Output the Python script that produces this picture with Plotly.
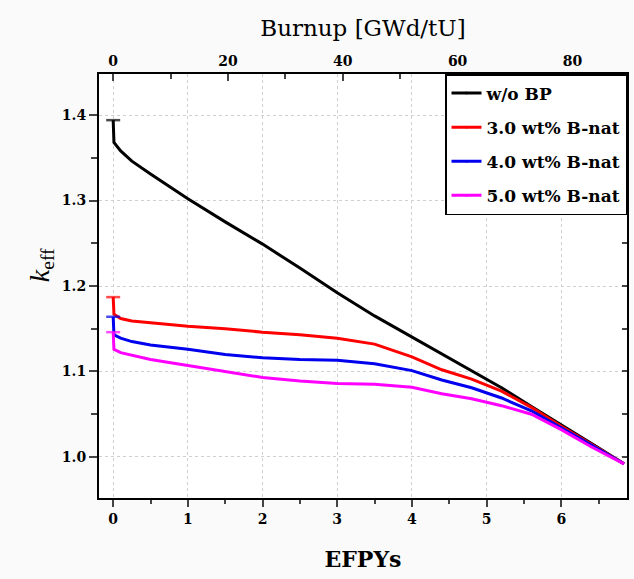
import plotly.graph_objects as go

# EFPY grid and k_eff readings for each case
efpy = [0, 0.01, 0.1, 0.25, 0.5, 1.0, 1.5, 2.0, 2.5, 3.0, 3.5, 4.0, 4.4, 4.8, 5.2, 5.6, 6.0, 6.4, 6.84]
k_no_bp = [1.394, 1.368, 1.358, 1.346, 1.331, 1.302, 1.275, 1.249, 1.221, 1.192, 1.165, 1.140,
           1.120, 1.101, 1.081, 1.059, 1.038, 1.016, 0.992]
k_b30 = [1.187, 1.167, 1.162, 1.159, 1.157, 1.153, 1.150, 1.146, 1.143, 1.139, 1.132, 1.117,
         1.102, 1.091, 1.077, 1.058, 1.036, 1.015, 0.992]
k_b40 = [1.164, 1.143, 1.139, 1.135, 1.131, 1.126, 1.120, 1.116, 1.114, 1.113, 1.109, 1.101,
         1.090, 1.081, 1.069, 1.054, 1.034, 1.014, 0.992]
k_b50 = [1.146, 1.126, 1.122, 1.119, 1.114, 1.107, 1.100, 1.093, 1.089, 1.086, 1.085, 1.0815,
         1.074, 1.068, 1.060, 1.050, 1.032, 1.012, 0.992]

names = ['w/o BP', '3.0 wt% B-nat', '4.0 wt% B-nat', '5.0 wt% B-nat']
colors = ['#000000', '#ff0000', '#0000ee', '#ff00ff']

x_range = [-0.19, 6.88]
burnup_per_efpy = 13.01
y_range = [0.952, 1.448]

serif = 'DejaVu Serif'

fig = go.Figure()
for i, (name, k, c) in enumerate(zip(names, [k_no_bp, k_b30, k_b40, k_b50], colors)):
    sizes = [10] + [0] * (len(k) - 1)
    fig.add_trace(go.Scatter(x=efpy, y=k, name='<b>' + name + '</b>', mode='lines+markers',
                             line=dict(color=c, width=3),
                             marker=dict(symbol='line-ew', size=sizes, color=c,
                                         line=dict(color=c, width=2.5)),
                             legendgroup=str(i)))
# empty traces so the top (burnup) and right axes get drawn
fig.add_trace(go.Scatter(x=[], y=[], xaxis='x2', yaxis='y', showlegend=False))
fig.add_trace(go.Scatter(x=[], y=[], xaxis='x', yaxis='y2', showlegend=False))

tickfont = dict(family=serif, size=14, color='black')
fig.update_layout(
    width=634, height=579,
    margin=dict(l=99, r=7, t=74, b=81),
    paper_bgcolor='#fafafa', plot_bgcolor='white',
    font=dict(family=serif, color='black'),
    xaxis=dict(range=x_range, dtick=1, tick0=0, ticks='outside', ticklen=7, tickwidth=1.5,
               showline=True, linewidth=2, linecolor='black', mirror=False,
               showgrid=True, gridcolor='#d0d0d0', griddash='dot', gridwidth=1,
               zeroline=False, tickfont=tickfont, tickprefix='<b>', ticksuffix='</b>',
               minor=dict(dtick=0.5, ticks='outside', ticklen=4, tickwidth=1.5, showgrid=False),
               title=dict(text='<b>EFPYs</b>', font=dict(family=serif, size=22), standoff=26)),
    xaxis2=dict(range=[x_range[0] * burnup_per_efpy, x_range[1] * burnup_per_efpy],
                overlaying='x', side='top', anchor='y', dtick=20, tick0=0,
                ticks='inside', ticklen=7, tickwidth=1.5,
                showline=True, linewidth=2, linecolor='black', showgrid=False, zeroline=False,
                tickfont=tickfont, tickprefix='<b>', ticksuffix='</b>',
                minor=dict(dtick=10, ticks='inside', ticklen=5, tickwidth=1.5, showgrid=False),
                title=dict(text='Burnup [GWd/tU]', font=dict(family=serif, size=23), standoff=10)),
    yaxis=dict(range=y_range, dtick=0.1, tick0=1.0, tickformat='.1f', ticks='outside',
               ticklen=8, tickwidth=1.5,
               showline=True, linewidth=2, linecolor='black',
               showgrid=True, gridcolor='#d0d0d0', griddash='dot', gridwidth=1,
               zeroline=False, tickfont=tickfont, tickprefix='<b>', ticksuffix='</b>',
               minor=dict(dtick=0.05, ticks='outside', ticklen=6, tickwidth=1.5, showgrid=False)),
    yaxis2=dict(range=y_range, overlaying='y', side='right', anchor='x', dtick=0.05, tick0=1.0,
                ticks='inside', ticklen=5, tickwidth=1.5, showticklabels=False,
                showline=True, linewidth=2, linecolor='black', showgrid=False, zeroline=False),
    legend=dict(x=1, y=1, xanchor='right', yanchor='top', bgcolor='white',
                bordercolor='black', borderwidth=1.5, tracegroupgap=9,
                font=dict(family=serif, size=17, color='black')),
    annotations=[dict(text='<i>k</i><sub>eff</sub>', xref='paper', yref='paper',
                      x=-0.146, y=0.55, showarrow=False, textangle=-90,
                      font=dict(family='Liberation Serif', size=28, color='black'))],
)
fig.write_html('out.html', post_script="document.body.style.margin='0';",
               config={'displayModeBar': False})
